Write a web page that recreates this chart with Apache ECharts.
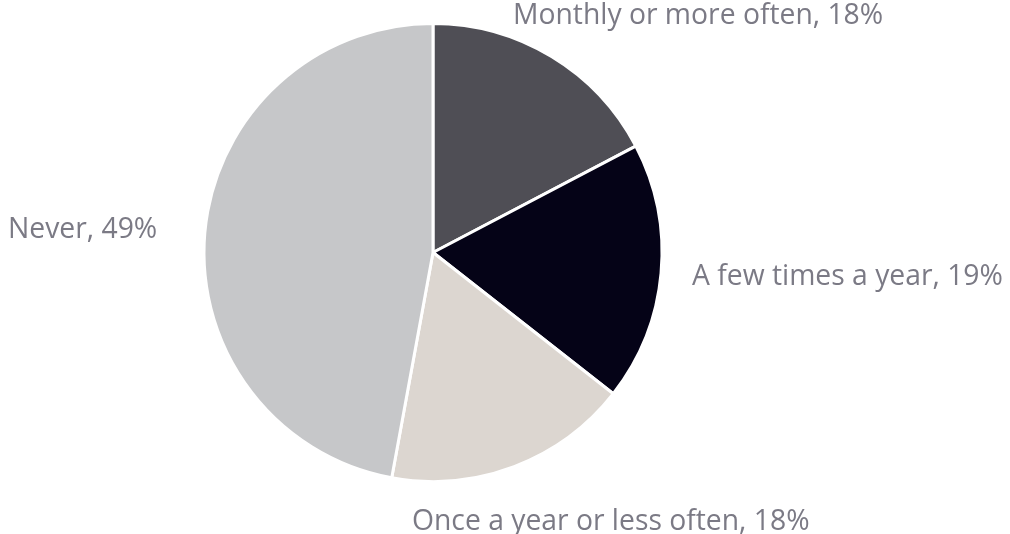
<!DOCTYPE html>
<html>
<head>
<meta charset="utf-8">
<script src="https://cdn.jsdelivr.net/npm/echarts@6/dist/echarts.min.js"></script>
<style>
  html, body { margin: 0; padding: 0; background: #ffffff; }
  #chart { width: 1010px; height: 534px; }
</style>
</head>
<body>
<div id="chart"></div>
<script>
// Survey answer categories and their shares (%)
const categories = [
  'Monthly or more often',
  'A few times a year',
  'Once a year or less often',
  'Never'
];
const shares = [18, 19, 18, 49];
const sliceColors = ['#4f4e55', '#050317', '#dcd6d0', '#c6c7c9'];

// Where each label sits (left-aligned x, vertical centre y)
const labelSpots = [
  { x: 513, y: 16 },
  { x: 692, y: 277 },
  { x: 412, y: 522 },
  { x: 8, y: 230 }
];

const chart = echarts.init(document.getElementById('chart'), null, { renderer: 'canvas' });

chart.setOption({
  animation: false,
  backgroundColor: '#ffffff',
  series: [{
    type: 'pie',
    center: [433, 252.5],
    radius: [0, 229],
    startAngle: 90,
    clockwise: true,
    data: categories.map((name, i) => ({
      name: name,
      value: shares[i],
      itemStyle: { color: sliceColors[i] }
    })),
    itemStyle: { borderColor: '#ffffff', borderWidth: 3 },
    label: {
      show: true,
      position: 'outside',
      formatter: '{b}, {c}%',
      color: '#7b7a85',
      fontFamily: 'Open Sans',
      fontSize: 28.3,
      overflow: 'none'
    },
    labelLine: { show: false },
    labelLayout: function (params) {
      const p = labelSpots[params.dataIndex];
      return { x: p.x, y: p.y, align: 'left', verticalAlign: 'middle', hideOverlap: false, moveOverlap: null };
    },
    emphasis: { disabled: true }
  }]
});
</script>
</body>
</html>
